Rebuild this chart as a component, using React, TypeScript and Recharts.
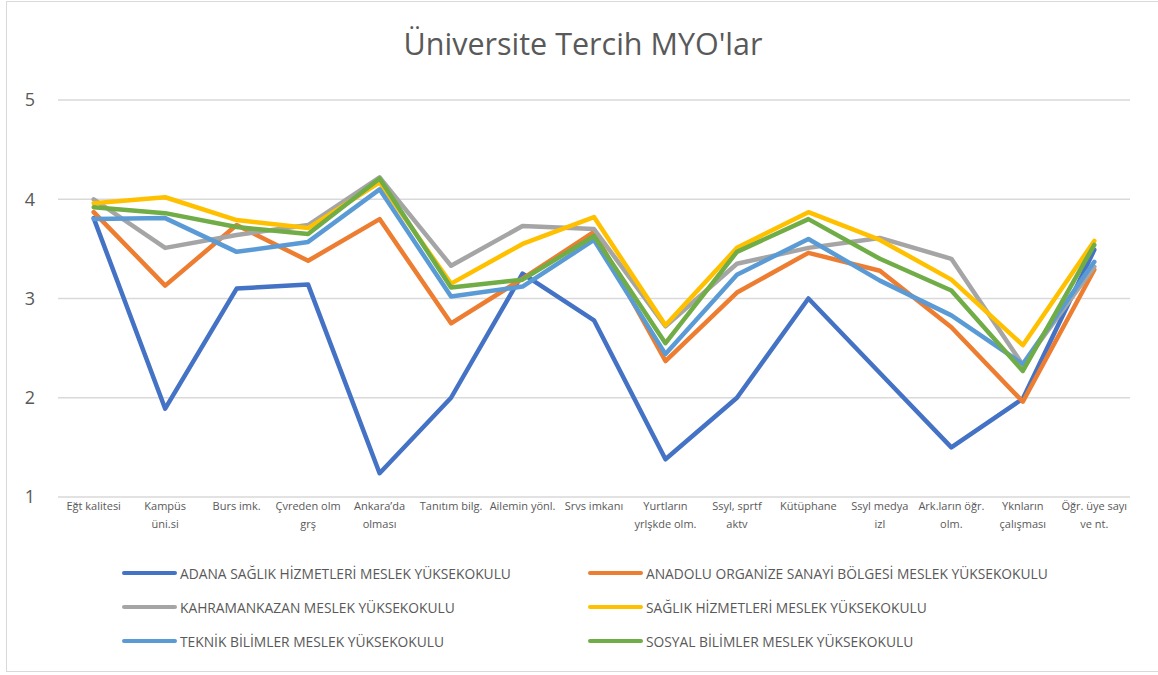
import React from "react";
import { LineChart, Line, XAxis, YAxis, CartesianGrid } from "recharts";

const categories: string[] = [
  "Eğt kalitesi",
  "Kampüs\nüni.si",
  "Burs imk.",
  "Çvreden olm\ngrş",
  "Ankara’da\nolması",
  "Tanıtım bilg.",
  "Ailemin yönl.",
  "Srvs imkanı",
  "Yurtların\nyrlşkde olm.",
  "Ssyl, sprtf\naktv",
  "Kütüphane",
  "Ssyl medya\nizl",
  "Ark.ların öğr.\nolm.",
  "Yknların\nçalışması",
  "Öğr. üye sayı\nve nt.",
];

const seriesNames: string[] = [
  "ADANA SAĞLIK HİZMETLERİ MESLEK YÜKSEKOKULU",
  "ANADOLU ORGANİZE SANAYİ BÖLGESİ MESLEK YÜKSEKOKULU",
  "KAHRAMANKAZAN MESLEK YÜKSEKOKULU",
  "SAĞLIK HİZMETLERİ MESLEK YÜKSEKOKULU",
  "TEKNİK BİLİMLER MESLEK YÜKSEKOKULU",
  "SOSYAL BİLİMLER MESLEK YÜKSEKOKULU",
];

const seriesColors: string[] = ["#4472C4", "#ED7D31", "#A5A5A5", "#FFC000", "#5B9BD5", "#70AD47"];

const adana: number[] = [3.81, 1.89, 3.1, 3.14, 1.24, 2.0, 3.25, 2.78, 1.38, 2.0, 3.0, 2.25, 1.5, 1.99, 3.49];
const anadolu: number[] = [3.87, 3.13, 3.74, 3.38, 3.8, 2.75, 3.2, 3.67, 2.37, 3.06, 3.46, 3.28, 2.71, 1.96, 3.29];
const kahramankazan: number[] = [4.0, 3.51, 3.64, 3.74, 4.22, 3.33, 3.73, 3.7, 2.72, 3.35, 3.51, 3.61, 3.4, 2.33, 3.32];
const saglik: number[] = [3.96, 4.02, 3.79, 3.71, 4.17, 3.15, 3.55, 3.82, 2.73, 3.51, 3.87, 3.59, 3.19, 2.53, 3.58];
const teknik: number[] = [3.8, 3.81, 3.47, 3.57, 4.1, 3.02, 3.12, 3.59, 2.44, 3.24, 3.6, 3.18, 2.83, 2.34, 3.37];
const sosyal: number[] = [3.92, 3.86, 3.72, 3.65, 4.21, 3.11, 3.19, 3.63, 2.55, 3.47, 3.8, 3.4, 3.08, 2.27, 3.54];

const yTicks: number[] = [1, 2, 3, 4, 5];
const title = "Üniversite Tercih MYO'lar";

const allSeries = [adana, anadolu, kahramankazan, saglik, teknik, sosyal];
const keys = ["s0", "s1", "s2", "s3", "s4", "s5"];

const data = categories.map((c, i) => {
  const row: Record<string, string | number> = { name: c };
  allSeries.forEach((s, j) => {
    row[keys[j]] = s[i];
  });
  return row;
});

const FONT = "'Open Sans', 'Noto Sans', sans-serif";
const TEXT = "#595959";

const XTick = (props: any) => {
  const { x, y, payload } = props;
  const lines = String(payload.value).split("\n");
  return (
    <text x={x} y={y} textAnchor="middle" fill={TEXT} fontSize={11} fontFamily={FONT}>
      {lines.map((l, i) => (
        <tspan key={i} x={x} dy={i === 0 ? 13 : 18}>
          {l}
        </tspan>
      ))}
    </text>
  );
};

export default function App() {
  return (
    <div style={{ position: "absolute", left: 0, top: 0, width: 1158, height: 675, background: "#fff", overflow: "hidden" }}>
      <div
        style={{
          position: "absolute",
          left: 6,
          top: 1,
          width: 1160,
          height: 671,
          border: "1.5px solid #d9d9d9",
          boxSizing: "border-box",
        }}
      />
      <div
        style={{
          position: "absolute",
          left: 0,
          top: 23,
          width: 1166,
          textAlign: "center",
          fontFamily: FONT,
          fontSize: 30.5,
          color: TEXT,
          lineHeight: "40px",
        }}
      >
        {title}
      </div>
      <div style={{ position: "absolute", left: 0, top: 0 }}>
        <LineChart width={1158} height={675} data={data} margin={{ top: 100, right: 28, left: 0, bottom: 0 }}>
          <CartesianGrid horizontal vertical={false} stroke="#d9d9d9" strokeWidth={1.3} />
          <XAxis
            dataKey="name"
            interval={0}
            axisLine={false}
            tickLine={false}
            tickSize={0}
            tickMargin={0}
            height={178}
            padding={{ left: 35.7, right: 35.7 }}
            tick={<XTick />}
          />
          <YAxis
            domain={[1, 5]}
            ticks={yTicks}
            axisLine={false}
            tickLine={false}
            tickSize={0}
            tickMargin={23}
            width={58}
            tick={{ fill: TEXT, fontSize: 18, fontFamily: FONT }}
          />
          {keys.map((k, j) => (
            <Line
              key={k}
              dataKey={k}
              name={seriesNames[j]}
              stroke={seriesColors[j]}
              strokeWidth={4.5}
              dot={false}
              activeDot={false}
              strokeLinecap="round"
              strokeLinejoin="round"
              isAnimationActive={false}
            />
          ))}
        </LineChart>
      </div>
      <div
        style={{
          position: "absolute",
          left: 122,
          top: 556,
          width: 940,
          display: "flex",
          flexWrap: "wrap",
          fontFamily: FONT,
          fontSize: 13.8,
          color: TEXT,
        }}
      >
        {seriesNames.map((n, j) => (
          <div key={n} style={{ width: 466, height: 34, display: "flex", alignItems: "center", whiteSpace: "nowrap" }}>
            <div style={{ width: 55, height: 4.5, borderRadius: 3, background: seriesColors[j], marginRight: 3, flexShrink: 0 }} />
            <span>{n}</span>
          </div>
        ))}
      </div>
    </div>
  );
}
